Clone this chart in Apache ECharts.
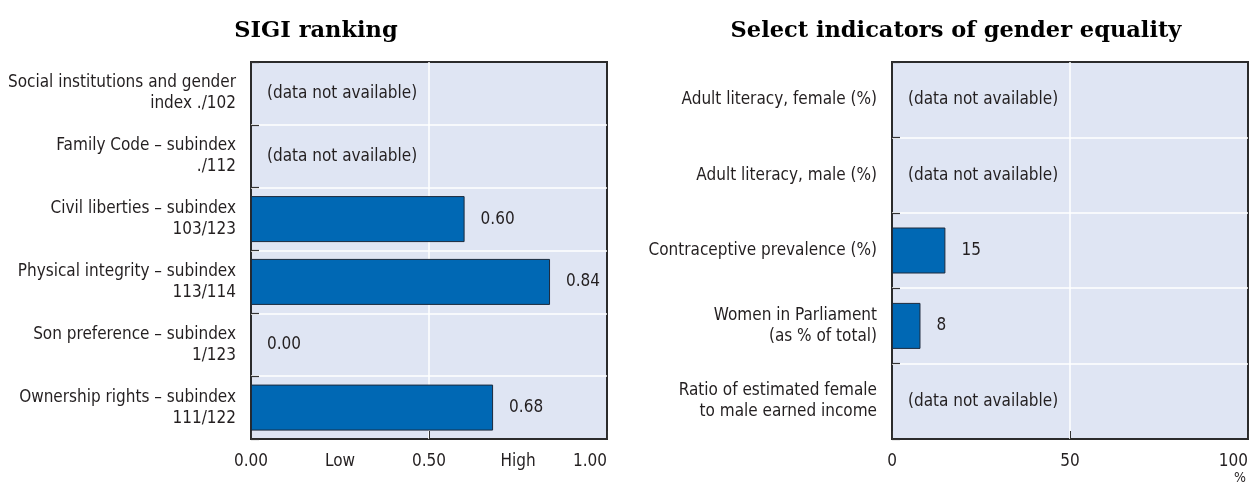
<!DOCTYPE html>
<html><head><meta charset="utf-8">
<script src="https://cdn.jsdelivr.net/npm/echarts@6/dist/echarts.min.js"></script>
<style>html,body{margin:0;padding:0;background:#fff}#c{width:1251px;height:483px}</style>
</head><body><div id="c"></div>
<script>
const sigiCategories = [
  "Social institutions and gender\nindex ./102",
  "Family Code – subindex\n./112",
  "Civil liberties – subindex\n103/123",
  "Physical integrity – subindex\n113/114",
  "Son preference – subindex\n1/123",
  "Ownership rights – subindex\n111/122"
];
const sigiValues = [null, null, 0.60, 0.84, 0.00, 0.68];
const sigiTicks = {0: "0.00", 0.25: "Low", 0.5: "0.50", 0.75: "High", 1: "1.00"};

const geCategories = [
  "Adult literacy, female (%)",
  "Adult literacy, male (%)",
  "Contraceptive prevalence (%)",
  "Women in Parliament\n(as % of total)",
  "Ratio of estimated female\nto male earned income"
];
const geValues = [null, null, 15, 8, null];

const FONT = '"Liberation Sans Narrow","DejaVu Sans Condensed",sans-serif';
const TXT = '#231f20';
const BAR = '#0068b4';
const BG = '#dfe5f3';
const FS = 17;

function toData(vals) {
  return vals.map(v => (v === null || v === 0)
    ? {value: 0, itemStyle: {color: 'rgba(0,0,0,0)', borderWidth: 0}}
    : {value: v});
}
function labelFmt(vals, digits) {
  return p => vals[p.dataIndex] === null ? '(data not available)' : vals[p.dataIndex].toFixed(digits);
}
const split = {show: true, showMinLine: false, showMaxLine: false, lineStyle: {color: '#fff', width: 1.5}};

const chart = echarts.init(document.getElementById('c'), null, {renderer: 'canvas'});
chart.setOption({
  animation: false,
  title: [
    {text: 'SIGI ranking', left: 311, top: 15, textAlign: 'center',
     textStyle: {fontFamily: '"DejaVu Serif",serif', fontWeight: 'bold', fontSize: 22.5, color: '#000'}},
    {text: 'Select indicators of gender equality', left: 951, top: 15, textAlign: 'center',
     textStyle: {fontFamily: '"DejaVu Serif",serif', fontWeight: 'bold', fontSize: 22.5, color: '#000'}}
  ],
  grid: [
    {left: 251, right: 644, top: 62, bottom: 44, show: true, backgroundColor: BG, borderColor: '#2b2b2b', borderWidth: 2, z: 0},
    {left: 892, right: 3, top: 62, bottom: 44, show: true, backgroundColor: BG, borderColor: '#2b2b2b', borderWidth: 2, z: 0}
  ],
  xAxis: [
    {gridIndex: 0, type: 'value', min: 0, max: 1, interval: 0.25, position: 'bottom',
     axisLine: {show: false}, axisTick: {show: false}, splitLine: {show: false},
     axisLabel: {fontFamily: FONT, fontSize: FS, color: TXT, margin: 14, alignMaxLabel: 'right',
       formatter: v => sigiTicks[Math.round(v * 100) / 100] || ''}},
    {gridIndex: 0, type: 'value', min: 0, max: 1, interval: 0.5, position: 'bottom',
     axisLine: {show: false}, axisLabel: {show: false},
     axisTick: {show: true, inside: true, length: 8, lineStyle: {color: '#333', width: 1}},
     splitLine: split},
    {gridIndex: 1, type: 'value', min: 0, max: 100, interval: 50, position: 'bottom',
     axisLine: {show: false},
     axisTick: {show: true, inside: true, length: 8, lineStyle: {color: '#333', width: 1}},
     splitLine: split,
     axisLabel: {fontFamily: FONT, fontSize: FS, color: TXT, margin: 14, alignMaxLabel: 'right'}}
  ],
  yAxis: [
    {gridIndex: 0, type: 'category', inverse: true, data: sigiCategories,
     axisLine: {show: false},
     axisTick: {show: true, inside: true, length: 8, lineStyle: {color: '#333', width: 1.2}},
     splitLine: split,
     axisLabel: {fontFamily: FONT, fontSize: FS, color: TXT, margin: 15, lineHeight: 21, align: 'right'}},
    {gridIndex: 1, type: 'category', inverse: true, data: geCategories,
     axisLine: {show: false},
     axisTick: {show: true, inside: true, length: 8, lineStyle: {color: '#333', width: 1.2}},
     splitLine: split,
     axisLabel: {fontFamily: FONT, fontSize: FS, color: TXT, margin: 15, lineHeight: 21, align: 'right'}}
  ],
  graphic: [
    {type: 'text', right: 5, top: 471, style: {text: '%', font: '14px ' + FONT, fill: TXT}}
  ],
  series: [
    {type: 'bar', xAxisIndex: 0, yAxisIndex: 0, data: toData(sigiValues), barWidth: 46,
     itemStyle: {color: BAR, borderColor: '#1c2a3c', borderWidth: 1},
     label: {show: true, position: 'right', distance: 16, fontFamily: FONT, fontSize: FS, color: TXT,
       formatter: labelFmt(sigiValues, 2)}},
    {type: 'bar', xAxisIndex: 2, yAxisIndex: 1, data: toData(geValues), barWidth: 46,
     itemStyle: {color: BAR, borderColor: '#1c2a3c', borderWidth: 1},
     label: {show: true, position: 'right', distance: 16, fontFamily: FONT, fontSize: FS, color: TXT,
       formatter: labelFmt(geValues, 0)}}
  ]
});
</script>
</body></html>
